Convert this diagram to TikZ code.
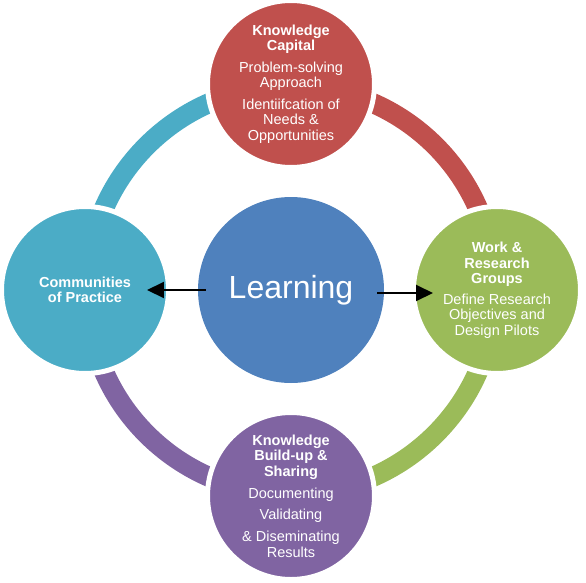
\documentclass[tikz,border=0pt]{standalone}
\usepackage{fontspec}
\setmainfont{Liberation Sans}
\usetikzlibrary{arrows.meta,positioning}
\definecolor{kcred}{HTML}{C0504D}
\definecolor{wrgreen}{HTML}{9BBB59}
\definecolor{kbpurple}{HTML}{8064A2}
\definecolor{copteal}{HTML}{4BACC6}
\definecolor{lrnblue}{HTML}{4F81BD}
\begin{document}
\begin{tikzpicture}[>={Triangle[length=17pt,width=16pt]},node distance=206pt,
                    center node/.style={circle,fill=lrnblue,text=white,minimum size=186pt,
                      inner sep=0pt,font=\fontsize{32}{36}\selectfont},
                    topic/.style={circle,draw=white,line width=5pt,text=white,minimum size=167pt,
                      inner sep=0pt,align=center,font=\fontsize{14.5}{15.5}\selectfont},
                    ring/.style={line width=20pt},
                    link/.style={->,line width=2pt}]

      \useasboundingbox (-291pt,290pt) rectangle (295pt,-292pt);
      \node[center node] (learn) {Learning};
      \draw[ring,copteal] (learn.center) ++(90:204pt) arc[start angle=90,end angle=180,radius=204pt];
      \draw[ring,kcred] (learn.center) ++(0:204pt) arc[start angle=0,end angle=90,radius=204pt];
      \draw[ring,wrgreen] (learn.center) ++(-90:204pt) arc[start angle=-90,end angle=0,radius=204pt];
      \draw[ring,kbpurple] (learn.center) ++(180:204pt) arc[start angle=180,end angle=270,radius=204pt];

      \node[topic,fill=kcred] (kc) [above of=learn]
        {\textbf{Knowledge}\\\textbf{Capital}\\[6pt]Problem-solving\\Approach\\[6pt]Identiifcation of\\Needs \&\\Opportunities};
      \node[topic,fill=wrgreen] (wrg) [right of=learn]
        {\textbf{Work \&}\\\textbf{Research}\\\textbf{Groups}\\[5pt]Define Research\\Objectives and\\Design Pilots};
      \node[topic,fill=kbpurple] (kbs) [below of=learn]
        {\textbf{Knowledge}\\\textbf{Build-up \&}\\\textbf{Sharing}\\[7pt]Documenting\\[5pt]Validating\\[7pt]\& Diseminating\\Results};
      \node[topic,fill=copteal] (cop) [left of=learn]
        {\textbf{Communities}\\\textbf{of Practice}};

      \draw[link] ([xshift=8pt]learn.west) -- ([xshift=-24pt]cop.east);
      \draw[link] ([xshift=-7pt,yshift=-3pt]learn.east) -- ([xshift=22pt,yshift=-3pt]wrg.west);
    \end{tikzpicture}
\end{document}
